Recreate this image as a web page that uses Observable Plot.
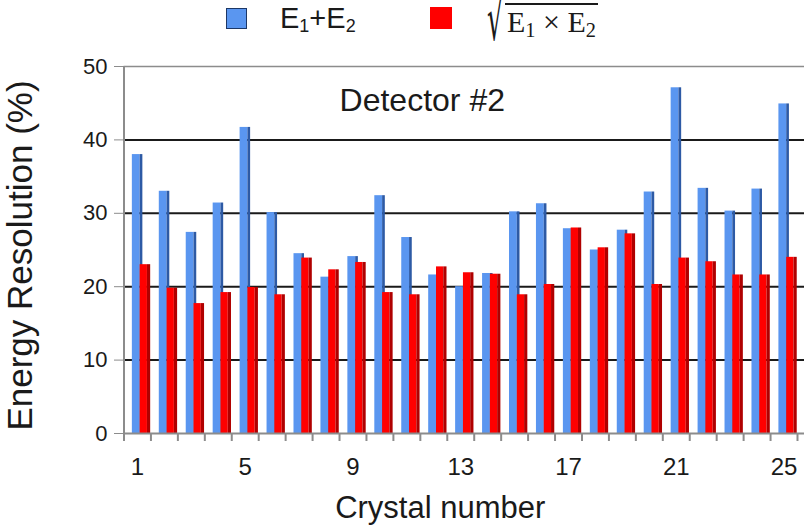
<!DOCTYPE html>
<html>
<head>
<meta charset="utf-8">
<script src="https://cdn.jsdelivr.net/npm/d3@7"></script>
<script src="https://cdn.jsdelivr.net/npm/@observablehq/plot@0.6"></script>
<style>
  html, body { margin: 0; padding: 0; background: #fff; }
  #wrap { position: relative; width: 810px; height: 532px; font-family: "Liberation Sans", Arial, sans-serif; color: #1a1a1a; }
  #legend { position: relative; width: 810px; height: 44px; overflow: visible; }
  .sw { position: absolute; }
  .lt { position: absolute; white-space: nowrap; }
  .sans { font-family: "Liberation Sans", Arial, sans-serif; font-size: 29px; line-height: 36px; }
  .sans sub { font-size: 0.62em; vertical-align: -0.25em; line-height: 0; }
  .math { font-family: "Liberation Serif", "DejaVu Serif", serif; font-size: 30px; line-height: 44px; height: 44px; }
  .math sub { font-size: 0.68em; vertical-align: -0.25em; line-height: 0; }
  .rad { position: absolute; left: 0; top: 1px; font-family: "DejaVu Sans", sans-serif; font-size: 60px; line-height: 36px; transform: scaleX(0.43); transform-origin: 0 0; }
  .under { position: absolute; left: 18px; top: 3px; border-top: 2px solid #1a1a1a; padding: 0 2px 0 2px; line-height: 34px; white-space: nowrap; }
</style>
</head>
<body>
<div id="wrap">
  <div id="legend"></div>
  <div id="chart"></div>
</div>
<script>
// ---- data ----
const crystals = [1,2,3,4,5,6,7,8,9,10,11,12,13,14,15,16,17,18,19,20,21,22,23,24,25];
const sumRes  = [38.0,33.0,27.4,31.4,41.7,30.1,24.5,21.3,24.1,32.4,26.7,21.6,20.0,21.8,30.2,31.3,27.9,25.0,27.7,32.9,47.1,33.4,30.3,33.3,44.9];
const geoRes  = [23.0,19.8,17.7,19.2,19.9,18.9,23.9,22.3,23.3,19.2,18.9,22.7,21.9,21.7,18.9,20.3,28.0,25.3,27.2,20.3,23.9,23.4,21.6,21.6,24.0];
const xTickLabels = [1,5,9,13,17,21,25];
const yTicks = [0,10,20,30,40,50];

const rows = crystals.map((c, i) => ({crystal: c, sum: sumRes[i], geo: geoRes[i]}));
const boundaries = [crystals[0] - 0.5, ...crystals.map(c => c + 0.5)];

// ---- legend (HTML above the SVG) ----
const legend = document.getElementById("legend");
legend.innerHTML = `
  <div class="sw" style="left:226px;top:8px;width:19px;height:19px;background:#5a96f0;border:1.5px solid #1c3766;"></div>
  <div class="lt sans" style="left:280px;top:0px;">E<sub>1</sub>+E<sub>2</sub></div>
  <div class="sw" style="left:430px;top:7px;width:22px;height:22px;background:#ff0000;"></div>
  <div class="lt math" style="left:487px;top:0px;width:125px;"><span class="rad">&#8730;</span><span class="under">E<sub>1</sub> × E<sub>2</sub></span></div>
`;

// ---- chart ----
const chart = Plot.plot({
  width: 810,
  height: 488,
  marginLeft: 123.5,
  marginRight: 6,
  marginTop: 22,
  marginBottom: 99,
  style: {fontFamily: "'Liberation Sans', Arial, sans-serif", color: "#1a1a1a", background: "#fff"},
  x: {type: "linear", domain: [0.5, 25.76], axis: null},
  y: {domain: [0, 50], axis: null},
  marks: [
    Plot.ruleY([10, 20, 30, 40], {stroke: "#1a1a1a", strokeWidth: 2}),
    Plot.ruleY([50], {stroke: "#8c8c8c", strokeWidth: 1.6}),
    // E1+E2 bars (blue) with darker right edge
    Plot.rectY(rows, {x1: d => d.crystal - 0.19, x2: d => d.crystal + 0.10, y: "sum", fill: "#5a96f0", inset: 0}),
    Plot.rectY(rows, {x1: d => d.crystal + 0.10, x2: d => d.crystal + 0.20, y: "sum", fill: "#2d5aa5", inset: 0}),
    // sqrt(E1 x E2) bars (red) with darker right edge
    Plot.rectY(rows, {x1: d => d.crystal + 0.10, x2: d => d.crystal + 0.37, y: "geo", fill: "#ff0000", inset: 0}),
    Plot.rectY(rows, {x1: d => d.crystal + 0.37, x2: d => d.crystal + 0.49, y: "geo", fill: "#b00000", inset: 0}),
    // axis lines
    Plot.ruleX([0.5], {y1: 0, y2: 50, stroke: "#8c8c8c", strokeWidth: 2}),
    Plot.ruleY([0], {stroke: "#8c8c8c", strokeWidth: 2}),
    Plot.axisY({ticks: yTicks, tickSize: 9.5, tickPadding: 7, fontSize: 22, stroke: "#8c8c8c", fill: "#1a1a1a", label: null}),
    Plot.axisX({ticks: boundaries, tickFormat: () => "", tickSize: 8, stroke: "#8c8c8c", strokeWidth: 2, label: null}),
    Plot.axisX({ticks: xTickLabels, tickSize: 0, tickPadding: 24, fontSize: 24, fill: "#1a1a1a", label: null}),
    // titles
    Plot.text(["Energy Resolution (%)"], {frameAnchor: "left", textAnchor: "middle", lineAnchor: "middle", rotate: -90, dx: -103, dy: 5.5, fontSize: 35, fill: "#1a1a1a", text: d => d}),
    Plot.text(["Crystal number"], {frameAnchor: "bottom", textAnchor: "middle", lineAnchor: "middle", dx: -24, dy: 75, fontSize: 31, fill: "#1a1a1a", text: d => d}),
    Plot.text(["Detector #2"], {frameAnchor: "top", textAnchor: "middle", lineAnchor: "middle", dx: -42, dy: 34, fontSize: 32, fill: "#1a1a1a", text: d => d})
  ]
});
document.getElementById("chart").appendChild(chart);
</script>
</body>
</html>
